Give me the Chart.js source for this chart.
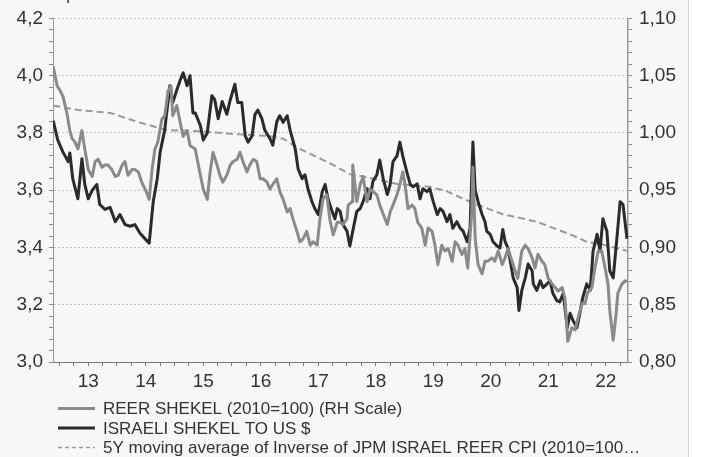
<!DOCTYPE html>
<html>
<head>
<meta charset="utf-8">
<script src="https://cdn.jsdelivr.net/npm/chart.js@4/dist/chart.umd.min.js"></script>
<style>
  body { margin: 0; background: #ffffff; }
  #wrap { width: 688px; height: 457px; border-right: 1px solid #d4d4d4; }
</style>
</head>
<body>
<div id="wrap"><canvas id="spot_reer" width="688" height="457"></canvas></div>
<script>
// REER shekel (2010=100), right hand scale
var reerYears = [12.89, 12.96, 13.01, 13.06, 13.13, 13.18, 13.22, 13.27, 13.32, 13.39, 13.44, 13.50, 13.57, 13.62, 13.67, 13.74, 13.79, 13.84, 13.91, 13.97,
    14.02, 14.09, 14.14, 14.19, 14.26, 14.31, 14.37, 14.43, 14.49, 14.56, 14.61, 14.66, 14.71, 14.78, 14.83, 14.89, 14.94, 14.97,
    15.04, 15.10, 15.15, 15.22, 15.27, 15.36, 15.45, 15.50, 15.57, 15.62, 15.67, 15.74, 15.79, 15.84, 15.91, 15.97,
    16.02, 16.09, 16.14, 16.19, 16.26, 16.31, 16.37, 16.43, 16.49, 16.54, 16.61, 16.66, 16.71, 16.78, 16.83, 16.89, 16.96,
    17.01, 17.06, 17.13, 17.18, 17.23, 17.30, 17.36, 17.41, 17.48, 17.53, 17.58, 17.65, 17.70, 17.76, 17.83, 17.88, 17.93,
    18.00, 18.02, 18.09, 18.10, 18.17, 18.23, 18.28, 18.35, 18.40, 18.45, 18.52, 18.57, 18.63, 18.70, 18.75, 18.80, 18.87, 18.92, 18.97,
    19.01, 19.06, 19.13, 19.18, 19.23, 19.30, 19.36, 19.41, 19.48, 19.53, 19.58, 19.65, 19.70, 19.76, 19.83, 19.88, 19.93,
    20.00, 20.05, 20.10, 20.17, 20.19, 20.23, 20.28, 20.35, 20.40, 20.45, 20.52, 20.57, 20.63, 20.70, 20.75, 20.80, 20.87, 20.92, 20.97,
    21.04, 21.10, 21.15, 21.22, 21.27, 21.32, 21.39, 21.44, 21.50, 21.57, 21.62, 21.67, 21.74, 21.79, 21.84, 21.91, 21.97,
    22.02, 22.09, 22.14, 22.18, 22.26, 22.31, 22.37, 22.43, 22.49, 22.54, 22.57, 22.63, 22.68, 22.71, 22.78, 22.84, 22.87];
var reerValues = [1.058, 1.041, 1.037, 1.032, 1.017, 1.002, 0.995, 0.992, 0.986, 1.002, 0.986, 0.968, 0.962, 0.975, 0.977, 0.970, 0.972, 0.972, 0.968, 0.962,
    0.963, 0.972, 0.975, 0.963, 0.968, 0.968, 0.966, 0.957, 0.951, 0.942, 0.968, 0.986, 0.992, 1.012, 1.015, 1.037, 1.041, 1.015,
    1.024, 1.009, 0.997, 1.002, 0.989, 0.986, 0.963, 0.951, 0.942, 0.966, 0.983, 0.972, 0.963, 0.957, 0.963, 0.972,
    0.975, 0.977, 0.983, 0.975, 0.966, 0.972, 0.977, 0.975, 0.960, 0.960, 0.957, 0.951, 0.955, 0.960, 0.949, 0.942, 0.931,
    0.934, 0.925, 0.914, 0.905, 0.907, 0.914, 0.902, 0.905, 0.902, 0.925, 0.942, 0.946, 0.925, 0.911, 0.922, 0.922, 0.920,
    0.925, 0.937, 0.940, 0.972, 0.940, 0.955, 0.962, 0.940, 0.951, 0.949, 0.946, 0.937, 0.929, 0.920, 0.931, 0.937, 0.946, 0.955, 0.966,
    0.955, 0.934, 0.937, 0.934, 0.922, 0.917, 0.902, 0.917, 0.914, 0.902, 0.885, 0.902, 0.897, 0.899, 0.888, 0.905, 0.902,
    0.894, 0.899, 0.882, 0.931, 0.970, 0.907, 0.885, 0.877, 0.888, 0.888, 0.891, 0.888, 0.897, 0.885, 0.891, 0.899, 0.888, 0.880, 0.873,
    0.897, 0.902, 0.899, 0.891, 0.882, 0.894, 0.888, 0.885, 0.873, 0.868, 0.865, 0.862, 0.865, 0.856, 0.818, 0.830, 0.828,
    0.839, 0.851, 0.851, 0.860, 0.865, 0.882, 0.897, 0.897, 0.882, 0.868, 0.845, 0.819, 0.842, 0.860, 0.868, 0.871, 0.870];

// Israeli shekel to US $, left hand scale
var usdYears = [12.89, 12.97, 13.06, 13.15, 13.18, 13.23, 13.32, 13.39, 13.44, 13.50, 13.57, 13.65, 13.70, 13.79, 13.88, 13.97,
    14.05, 14.14, 14.23, 14.31, 14.40, 14.49, 14.56, 14.63, 14.70, 14.75, 14.83, 14.92, 14.97,
    15.04, 15.10, 15.15, 15.22, 15.27, 15.32, 15.36, 15.45, 15.50, 15.57, 15.65, 15.70, 15.76, 15.83, 15.91, 15.97,
    16.05, 16.10, 16.17, 16.23, 16.28, 16.35, 16.40, 16.45, 16.52, 16.57, 16.66, 16.71, 16.78, 16.83, 16.89, 16.96,
    17.01, 17.10, 17.15, 17.22, 17.27, 17.32, 17.39, 17.44, 17.50, 17.57, 17.62, 17.67, 17.74, 17.79, 17.83, 17.88, 17.93,
    18.00, 18.05, 18.10, 18.17, 18.23, 18.28, 18.35, 18.40, 18.45, 18.52, 18.57, 18.63, 18.70, 18.75, 18.80, 18.87, 18.92, 18.97,
    19.04, 19.10, 19.15, 19.22, 19.27, 19.32, 19.39, 19.44, 19.50, 19.57, 19.62, 19.67, 19.74, 19.79, 19.84, 19.91, 19.97,
    20.02, 20.09, 20.14, 20.19, 20.23, 20.28, 20.35, 20.40, 20.43, 20.49, 20.54, 20.61, 20.66, 20.71, 20.75, 20.80, 20.83, 20.89, 20.96, 20.99,
    21.04, 21.10, 21.15, 21.22, 21.24, 21.30, 21.36, 21.41, 21.48, 21.53, 21.58, 21.65, 21.70, 21.76, 21.83, 21.88, 21.93,
    22.00, 22.05, 22.10, 22.17, 22.23, 22.28, 22.35, 22.40, 22.45, 22.52, 22.57, 22.63, 22.70, 22.75, 22.80, 22.87];
var usdValues = [3.843, 3.775, 3.733, 3.70, 3.73, 3.64, 3.57, 3.71, 3.62, 3.57, 3.60, 3.62, 3.55, 3.533, 3.54, 3.49,
    3.515, 3.48, 3.474, 3.48, 3.45, 3.43, 3.415, 3.56, 3.64, 3.733, 3.81, 3.965, 3.906,
    3.95, 3.985, 4.01, 3.965, 4.0, 3.87, 3.87, 3.826, 3.775, 3.80, 3.93, 3.916, 3.85, 3.91, 3.865, 3.916,
    3.97, 3.906, 3.906, 3.79, 3.768, 3.79, 3.865, 3.88, 3.85, 3.81, 3.78, 3.757, 3.84, 3.86, 3.837, 3.86,
    3.81, 3.744, 3.674, 3.64, 3.654, 3.605, 3.56, 3.536, 3.515, 3.595, 3.62, 3.57, 3.526, 3.50, 3.536, 3.526, 3.48,
    3.457, 3.405, 3.457, 3.526, 3.536, 3.56, 3.605, 3.57, 3.63, 3.654, 3.705, 3.64, 3.585, 3.62, 3.70, 3.72, 3.768, 3.72,
    3.664, 3.62, 3.612, 3.622, 3.57, 3.605, 3.595, 3.605, 3.56, 3.515, 3.536, 3.526, 3.49, 3.515, 3.467, 3.49, 3.467,
    3.457, 3.42, 3.467, 3.768, 3.60, 3.56, 3.515, 3.49, 3.457, 3.446, 3.42, 3.405, 3.398, 3.463, 3.42, 3.398, 3.363, 3.294, 3.26, 3.18,
    3.25, 3.294, 3.342, 3.318, 3.273, 3.25, 3.284, 3.26, 3.273, 3.284, 3.24, 3.214, 3.21, 3.24, 3.12, 3.17, 3.145,
    3.12, 3.17, 3.225, 3.273, 3.25, 3.388, 3.446, 3.388, 3.50, 3.457, 3.318, 3.294, 3.446, 3.56, 3.55, 3.43];

// 5Y moving average of inverse of JPM Israel REER CPI, right hand scale
var maYears = [12.89, 13.32, 13.88, 14.40, 14.87, 15.45, 16.02, 16.61, 16.89, 17.18, 17.76, 18.05, 18.28, 18.87,
    19.44, 19.74, 20.02, 20.26, 20.71, 21.30, 21.88, 22.17, 22.45, 22.87];
var maValues = [1.024, 1.020, 1.0175, 1.009, 1.0025, 1.0015, 0.999, 0.9975, 0.995, 0.986, 0.972, 0.964, 0.962, 0.9555,
    0.953, 0.949, 0.9425, 0.9375, 0.929, 0.9225, 0.9115, 0.905, 0.9025, 0.897];

var seriesLabels = [
    'REER SHEKEL (2010=100) (RH Scale)',
    'ISRAELI SHEKEL TO US $',
    '5Y moving average of Inverse of JPM ISRAEL REER CPI (2010=100\u2026'
];
var leftTicks = [3.0, 3.2, 3.4, 3.6, 3.8, 4.0, 4.2];
var rightTicks = [0.80, 0.85, 0.90, 0.95, 1.00, 1.05, 1.10];

function toPoints(years, values) {
    return years.map(function (y, i) {
        return { x: 2000 + y, y: values[i] };
    });
}

function isMajor(v, list) {
    return list.some(function (t) { return Math.abs(t - v) < 1e-6; });
}

var FONT = 'Liberation Sans, Arial, sans-serif';
var TEXT = '#333333';

var backgroundPlugin = {
    id: 'background',
    beforeDraw: function (chart) {
        var ctx = chart.ctx;
        ctx.save();
        ctx.fillStyle = '#f7f7f7';
        ctx.fillRect(0, 0, chart.width, chart.height);
        ctx.restore();
    }
};

// title cut at the top and legend drawn under the x axis
var legendPlugin = {
    id: 'bottomLegend',
    afterDraw: function (chart) {
        var ctx = chart.ctx;
        ctx.save();
        ctx.fillStyle = TEXT;
        ctx.font = '17px ' + FONT;
        ctx.textBaseline = 'alphabetic';
        ctx.fillText('Spot & REER', 55, 0);

        var rows = [408.5, 428, 447.5];
        chart.data.datasets.forEach(function (ds, i) {
            var y = rows[i];
            ctx.strokeStyle = ds.borderColor;
            ctx.lineWidth = ds.borderDash ? 1.5 : 3;
            ctx.setLineDash(ds.borderDash ? [4, 3] : []);
            ctx.beginPath();
            ctx.moveTo(58, y);
            ctx.lineTo(95, y);
            ctx.stroke();
            ctx.setLineDash([]);
            ctx.fillStyle = TEXT;
            ctx.font = '17px ' + FONT;
            ctx.textBaseline = 'middle';
            ctx.fillText(ds.label, 103, y + 1);
        });
        ctx.restore();
    }
};

var ctx = document.getElementById('spot_reer').getContext('2d');
var myChart = new Chart(ctx, {
    type: 'line',
    data: {
        datasets: [
            {
                label: seriesLabels[0],
                data: toPoints(reerYears, reerValues),
                yAxisID: 'y1',
                borderColor: '#8a8a8a',
                borderWidth: 3,
                pointRadius: 0,
                borderJoinStyle: 'round'
            },
            {
                label: seriesLabels[1],
                data: toPoints(usdYears, usdValues),
                yAxisID: 'y',
                borderColor: '#2b2b2b',
                borderWidth: 3,
                pointRadius: 0,
                borderJoinStyle: 'round'
            },
            {
                label: seriesLabels[2],
                data: toPoints(maYears, maValues),
                yAxisID: 'y1',
                borderColor: '#9a9a9a',
                borderWidth: 2,
                borderDash: [7, 4],
                pointRadius: 0
            }
        ]
    },
    options: {
        responsive: false,
        animation: false,
        layout: { padding: { top: 15, left: 0, right: 0, bottom: 0 } },
        plugins: {
            legend: { display: false },
            tooltip: { enabled: false }
        },
        scales: {
            x: {
                type: 'linear',
                min: 2012.887,
                max: 2022.887,
                afterBuildTicks: function (scale) {
                    var t = [];
                    for (var q = 2013; q < 2022.8; q += 0.25) {
                        t.push({ value: q });
                    }
                    scale.ticks = t;
                },
                afterFit: function (scale) { scale.height = 95; },
                grid: { drawOnChartArea: false, tickLength: 4, color: '#777777' },
                border: { color: '#777777', width: 1 },
                ticks: {
                    autoSkip: false,
                    maxRotation: 0,
                    minRotation: 0,
                    padding: 4,
                    color: TEXT,
                    font: { family: FONT, size: 19 },
                    callback: function (value) {
                        var frac = value - Math.floor(value);
                        if (Math.abs(frac - 0.5) < 1e-6) {
                            return String(Math.floor(value)).slice(2);
                        }
                        return '';
                    }
                }
            },
            y: {
                position: 'left',
                min: 3.0,
                max: 4.2,
                afterFit: function (scale) { scale.width = 53; },
                grid: {
                    tickLength: 4,
                    color: function (c) {
                        return isMajor(c.tick.value, leftTicks) ? '#c4c4c4' : 'rgba(0,0,0,0)';
                    },
                    tickColor: '#888888'
                },
                border: { color: '#999999', width: 1, dash: [2, 2] },
                ticks: {
                    stepSize: 0.04,
                    maxTicksLimit: 100,
                    autoSkip: false,
                    padding: 6,
                    color: TEXT,
                    font: { family: FONT, size: 19 },
                    callback: function (value) {
                        return isMajor(value, leftTicks) ? value.toFixed(1).replace('.', ',') : '';
                    }
                }
            },
            y1: {
                position: 'right',
                min: 0.80,
                max: 1.10,
                afterFit: function (scale) { scale.width = 60; },
                grid: { drawOnChartArea: false, tickLength: 4, tickColor: '#888888' },
                border: { color: '#999999', width: 1.5 },
                ticks: {
                    stepSize: 0.01,
                    maxTicksLimit: 100,
                    autoSkip: false,
                    padding: 7,
                    color: TEXT,
                    font: { family: FONT, size: 19 },
                    callback: function (value) {
                        return isMajor(value, rightTicks) ? value.toFixed(2).replace('.', ',') : '';
                    }
                }
            }
        }
    },
    plugins: [backgroundPlugin, legendPlugin]
});
</script>
</body>
</html>
